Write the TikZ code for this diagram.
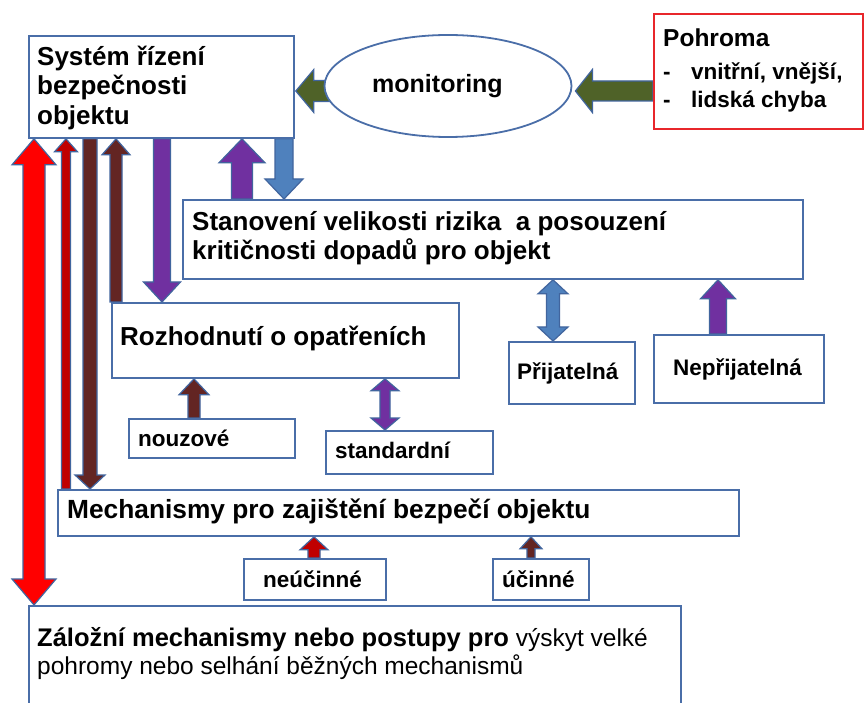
\documentclass[tikz,border=0pt]{standalone}
\usepackage{fontspec}
\setmainfont{Liberation Sans}
\usetikzlibrary{calc,shapes.geometric}
\definecolor{bord}{HTML}{4A6EA8}
\definecolor{aol}{HTML}{41659E}
\definecolor{pbord}{HTML}{E8262B}
\definecolor{cgreen}{HTML}{4F6228}
\definecolor{cred}{HTML}{FF0000}
\definecolor{cdred}{HTML}{C00000}
\definecolor{cbrown}{HTML}{632523}
\definecolor{cpurple}{HTML}{7030A0}
\definecolor{cblue}{HTML}{4F81BD}
\pgfdeclarelayer{bg}
\pgfsetlayers{bg,main}
\newcommand\mystrut{\rule{0pt}{1em}}
\newcommand\FBig{\fontsize{26}{29.5}\selectfont\bfseries}
\newcommand\FSm{\fontsize{22.5}{28}\selectfont\bfseries}
\newcommand\FBot{\fontsize{24.5}{28}\selectfont}
\tikzset{
  boxn/.style={draw=bord, line width=1.8pt, fill=white, rectangle, inner sep=0pt, anchor=north west},
  lab/.style={anchor=base west, inner sep=0pt},
  labm/.style={anchor=north west, inner sep=0pt, align=left},
  arrowblk/.style={draw=aol, line width=1.2pt, line join=miter},
}
% single block arrow: #1 fill, #2 from, #3 tip, #4 shaft half, #5 head half, #6 head length
\newcommand\blkarrow[6]{%
  \coordinate (bhB) at ($(#3)!#6!(#2)$);
  \path[arrowblk, fill=#1] ($(#2)!#4!90:(#3)$) -- ($(bhB)!#4!90:(#3)$) -- ($(bhB)!#5!90:(#3)$) -- (#3)
    -- ($(bhB)!#5!-90:(#3)$) -- ($(bhB)!#4!-90:(#3)$) -- ($(#2)!#4!-90:(#3)$) -- cycle;}
% double block arrow
\newcommand\blkdarrow[6]{%
  \coordinate (bhA) at ($(#2)!#6!(#3)$);
  \coordinate (bhB) at ($(#3)!#6!(#2)$);
  \path[arrowblk, fill=#1] (#2) -- ($(bhA)!#5!90:(#3)$) -- ($(bhA)!#4!90:(#3)$) -- ($(bhB)!#4!90:(#3)$)
    -- ($(bhB)!#5!90:(#3)$) -- (#3) -- ($(bhB)!#5!-90:(#3)$) -- ($(bhB)!#4!-90:(#3)$)
    -- ($(bhA)!#4!-90:(#3)$) -- ($(bhA)!#5!-90:(#3)$) -- cycle;}
\begin{document}
\begin{tikzpicture}[x=1pt,y=-1pt]
\useasboundingbox (0,0) rectangle (865,703);

% boxes
\node[boxn, minimum width=265pt, minimum height=102pt] (box1) at (28,35) {};
\node[ellipse, draw=bord, line width=1.8pt, fill=white, inner sep=0pt, minimum width=247pt, minimum height=102pt] (mon) at (448,86) {};
\node[boxn, draw=pbord, minimum width=209pt, minimum height=115pt] (pbox) at (653,13) {};
\node[boxn, minimum width=620pt, minimum height=79pt] (box2) at (182,199) {};
\node[boxn, minimum width=347pt, minimum height=75pt] (box3) at (111,302) {};
\node[boxn, minimum width=166pt, minimum height=39pt] (nouz) at (128,418) {};
\node[boxn, minimum width=167pt, minimum height=43pt] (std) at (325,430) {};
\node[boxn, minimum width=126pt, minimum height=62pt] (prij) at (508,341) {};
\node[boxn, minimum width=170pt, minimum height=68pt] (neprij) at (653,334) {};
\node[boxn, minimum width=681pt, minimum height=46pt] (mech) at (57,489) {};
\node[boxn, minimum width=142pt, minimum height=41pt] (neuc) at (243,558) {};
\node[boxn, minimum width=96pt, minimum height=41pt] (uc) at (492,558) {};
\node[boxn, minimum width=652pt, minimum height=110pt] (zal) at (28,605) {};

% texts
\node[labm, font=\FBig] (t1) at (37,39) {\mystrut Systém řízení\\bezpečnosti\\objektu};
\node[lab, font=\fontsize{25}{29}\selectfont\bfseries] (tmon) at (372,93) {monitoring};
\node[lab, font=\fontsize{24.5}{28}\selectfont\bfseries] (tpoh) at (663,47) {Pohroma};
\node[labm, font=\FSm] (tpl) at (663,56.5) {\mystrut\makebox[28pt][l]{-}vnitřní, vnější,\\\makebox[28pt][l]{-}lidská chyba};
\node[labm, font=\fontsize{26}{29}\selectfont\bfseries] (t2) at (192,204) {\mystrut Stanovení velikosti rizika~~a posouzení\\kritičnosti dopadů pro objekt};
\node[lab, font=\FBig] (t3) at (120,346) {Rozhodnutí o opatřeních};
\node[lab, font=\FSm] (tnouz) at (138,446) {nouzové};
\node[lab, font=\FSm] (tstd) at (335,458) {standardní};
\node[lab, font=\FSm] (tprij) at (517,380) {Přijatelná};
\node[lab, font=\FSm] (tneprij) at (673,375) {Nepřijatelná};
\node[lab, font=\fontsize{26.3}{30}\selectfont\bfseries] (tmech) at (67,518) {Mechanismy pro zajištění bezpečí objektu};
\node[lab, font=\FSm] (tneuc) at (263,587) {neúčinné};
\node[lab, font=\FSm] (tuc) at (502,587) {účinné};
\node[labm, font=\FBot] (tzal) at (37,621.5) {\mystrut{\fontsize{25.5}{28}\selectfont\bfseries Záložní mechanismy nebo postupy pro} výskyt velké\\pohromy nebo selhání běžných mechanismů};

% arrow endpoints
\coordinate (r1a) at (34,0 |- box1.south);   \coordinate (r1b) at (34,0 |- zal.north);
\coordinate (r2a) at (66,0 |- mech.north);   \coordinate (r2b) at (66,0 |- box1.south);
\coordinate (b1a) at (90,0 |- box1.south);   \coordinate (b1b) at (90,0 |- mech.north);
\coordinate (b2a) at (116,0 |- box3.north);  \coordinate (b2b) at (116,0 |- box1.south);
\coordinate (p1a) at (162,0 |- box1.south);  \coordinate (p1b) at (162,0 |- box3.north);
\coordinate (p2a) at (242,0 |- box2.north);  \coordinate (p2b) at (242,0 |- box1.south);
\coordinate (u1a) at (284,0 |- box1.south);  \coordinate (u1b) at (284,0 |- box2.north);
\coordinate (g1a) at ($(mon.west |- 0,91)+(6,0)$); \coordinate (g1b) at ($(box1.east |- 0,91)+(1,0)$);
\coordinate (g2a) at (pbox.west |- 0,91);    \coordinate (g2b) at ($(mon.east |- 0,91)+(3,0)$);
\coordinate (u2a) at (553,0 |- box2.south);  \coordinate (u2b) at (553,0 |- prij.north);
\coordinate (p3a) at (718,0 |- neprij.north);\coordinate (p3b) at (718,0 |- box2.south);
\coordinate (b3a) at (194,0 |- nouz.north);  \coordinate (b3b) at (194,0 |- box3.south);
\coordinate (p4a) at (385,0 |- box3.south);  \coordinate (p4b) at (385,0 |- std.north);
\coordinate (r3a) at (314,0 |- neuc.north);  \coordinate (r3b) at (314,0 |- mech.south);
\coordinate (b4a) at (531,0 |- uc.north);    \coordinate (b4b) at (531,0 |- mech.south);

\begin{pgfonlayer}{bg}
\fill[white] (0,0) rectangle (865,703);
\blkdarrow{cred}{r1a}{r1b}{11pt}{22pt}{26pt}
\blkarrow{cdred}{r2a}{r2b}{4.5pt}{11.5pt}{13pt}
\blkarrow{cbrown}{b1a}{b1b}{7pt}{15pt}{14pt}
\blkarrow{cbrown}{b2a}{b2b}{6pt}{14pt}{16pt}
\blkarrow{cpurple}{p1a}{p1b}{8.5pt}{18.5pt}{20pt}
\blkarrow{cpurple}{p2a}{p2b}{10.5pt}{23pt}{24pt}
\blkarrow{cblue}{u1a}{u1b}{9pt}{19pt}{20pt}
\blkarrow{cgreen}{g1a}{g1b}{10.5pt}{21.5pt}{18pt}
\blkarrow{cgreen}{g2a}{g2b}{10pt}{21.5pt}{17pt}
\blkdarrow{cblue}{u2a}{u2b}{6.5pt}{15pt}{14pt}
\blkarrow{cpurple}{p3a}{p3b}{8.5pt}{17.5pt}{19pt}
\blkarrow{cbrown}{b3a}{b3b}{6pt}{15pt}{16pt}
\blkdarrow{cpurple}{p4a}{p4b}{5pt}{14pt}{12pt}
\blkarrow{cdred}{r3a}{r3b}{6pt}{14pt}{13pt}
\blkarrow{cbrown}{b4a}{b4b}{4pt}{11pt}{12pt}
\end{pgfonlayer}
\end{tikzpicture}
\end{document}
